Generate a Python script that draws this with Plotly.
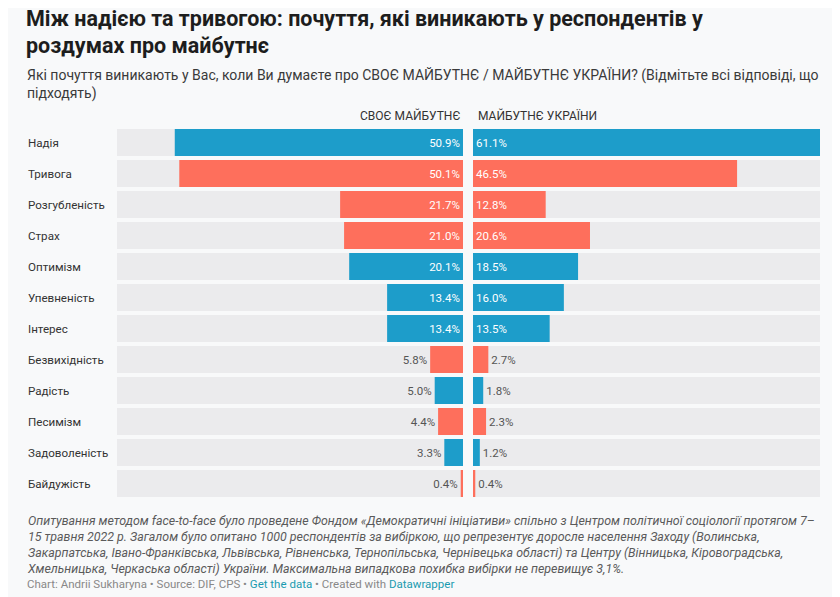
import plotly.graph_objects as go

# page body has an 8px margin; compensate so pixel positions match the reference
OFF = 8
W, H = 840 - OFF, 597 - OFF

categories = ["Надія", "Тривога", "Розгубленість", "Страх", "Оптимізм", "Упевненість",
              "Інтерес", "Безвихідність", "Радість", "Песимізм", "Задоволеність", "Байдужість"]
own_future = [50.9, 50.1, 21.7, 21.0, 20.1, 13.4, 13.4, 5.8, 5.0, 4.4, 3.3, 0.4]
ukraine_future = [61.1, 46.5, 12.8, 20.6, 18.5, 16.0, 13.5, 2.7, 1.8, 2.3, 1.2, 0.4]
sentiment = ["pos", "neg", "neg", "neg", "pos", "pos", "pos", "neg", "pos", "neg", "pos", "neg"]
series_names = ["СВОЄ МАЙБУТНЄ", "МАЙБУТНЄ УКРАЇНИ"]

title_lines = ["Між надією та тривогою: почуття, які виникають у респондентів у",
               "роздумах про майбутнє"]
subtitle = ("Які почуття виникають у Вас, коли Ви думаєте про СВОЄ МАЙБУТНЄ / МАЙБУТНЄ УКРАЇНИ? (Відмітьте всі відповіді, що<br>"
            "підходять)")
notes = ("Опитування методом face-to-face було проведене Фондом «Демократичні ініціативи» спільно з Центром політичної соціології протягом 7–<br>"
         "15 травня 2022 р. Загалом було опитано 1000 респондентів за вибіркою, що репрезентує доросле населення Заходу (Волинська,<br>"
         "Закарпатська, Івано-Франківська, Львівська, Рівненська, Тернопільська, Чернівецька області) та Центру (Вінницька, Кіровоградська,<br>"
         "Хмельницька, Черкаська області) України. Максимальна випадкова похибка вибірки не перевищує 3,1%.")

BLUE = "#1d9dca"
RED = "#fe6f5c"
PANEL = "#ebebed"
BG = "#f8f9fa"
colmap = {"pos": BLUE, "neg": RED}
colors = [colmap[s] for s in sentiment]

FONT = "Roboto"
vmax = max(max(own_future), max(ukraine_future))
INSIDE_MIN = 10


def px(x):
    return (x - OFF) / W


def py(y):
    return 1 - (y - OFF) / H


fig = go.Figure()

for vals, xa, ya in [(own_future, "x", "y"), (ukraine_future, "x2", "y2")]:
    fig.add_trace(go.Bar(
        y=categories, x=[vmax] * len(categories), orientation="h",
        marker=dict(color=PANEL, line=dict(width=0)),
        xaxis=xa, yaxis=ya, hoverinfo="skip", showlegend=False,
    ))
    fig.add_trace(go.Bar(
        y=categories, x=vals, orientation="h",
        marker=dict(color=colors, line=dict(width=0)),
        text=[f"{v:.1f}%" for v in vals],
        textposition=["inside" if v >= INSIDE_MIN else "outside" for v in vals],
        insidetextanchor="start",
        insidetextfont=dict(color="white", size=11.5, family=FONT),
        outsidetextfont=dict(color="#555555", size=11.5, family=FONT),
        cliponaxis=False, constraintext="none",
        xaxis=xa, yaxis=ya, showlegend=False,
    ))

top, bottom = 127, 499
ydom = [py(bottom), py(top)]

fig.update_layout(
    width=W, height=H,
    margin=dict(l=0, r=0, t=0, b=0),
    paper_bgcolor=BG, plot_bgcolor=BG,
    barmode="overlay", bargap=4 / 31,
    font=dict(family=FONT, color="#333333"),
    xaxis=dict(domain=[px(117), px(463)], range=[vmax, 0], visible=False, fixedrange=True),
    xaxis2=dict(domain=[px(473), px(820)], range=[0, vmax], visible=False, anchor="y2", fixedrange=True),
    yaxis=dict(domain=ydom, autorange="reversed", showticklabels=False, showgrid=False,
               zeroline=False, anchor="x"),
    yaxis2=dict(domain=ydom, autorange="reversed", showticklabels=False, showgrid=False,
                zeroline=False, anchor="x2", matches="y"),
)

ann = []
for line, yc in zip(title_lines, [19, 46]):
    ann.append(dict(text=f"<b>{line}</b>", x=px(25), y=py(yc), xref="paper", yref="paper",
                    xanchor="left", yanchor="middle", align="left", showarrow=False,
                    borderpad=0,
                    font=dict(size=21.5, color="#1d1d1d", family=FONT)))
ann.append(dict(text=subtitle, x=px(25), y=py(65), xref="paper", yref="paper",
                xanchor="left", yanchor="top", align="left", showarrow=False,
                font=dict(size=14, color="#3a3a3a", family=FONT)))
ann.append(dict(text=series_names[0], x=px(463), y=py(116), xref="paper", yref="paper",
                xanchor="right", yanchor="middle", showarrow=False,
                font=dict(size=12, color="#333333", family=FONT)))
ann.append(dict(text=series_names[1], x=px(476), y=py(116), xref="paper", yref="paper",
                xanchor="left", yanchor="middle", showarrow=False,
                font=dict(size=12, color="#333333", family=FONT)))
for c in categories:
    ann.append(dict(text=c, x=px(26), y=c, xref="paper", yref="y",
                    xanchor="left", yanchor="middle", showarrow=False,
                    font=dict(size=11.6, color="#333333", family=FONT)))
ann.append(dict(text=f"<i>{notes}</i>", x=px(25), y=py(511), xref="paper", yref="paper",
                xanchor="left", yanchor="top", align="left", showarrow=False,
                font=dict(size=12.4, color="#5a5a5a", family=FONT)))
ann.append(dict(text="Chart: Andrii Sukharyna • Source: DIF, CPS • <span style='color:#1a9bb0'>Get the data</span> • Created with <span style='color:#1a9bb0'>Datawrapper</span>",
                x=px(25), y=py(584), xref="paper", yref="paper",
                xanchor="left", yanchor="middle", showarrow=False,
                font=dict(size=11.5, color="#888888", family=FONT)))
fig.update_layout(annotations=ann)

fig.write_html("out.html")
